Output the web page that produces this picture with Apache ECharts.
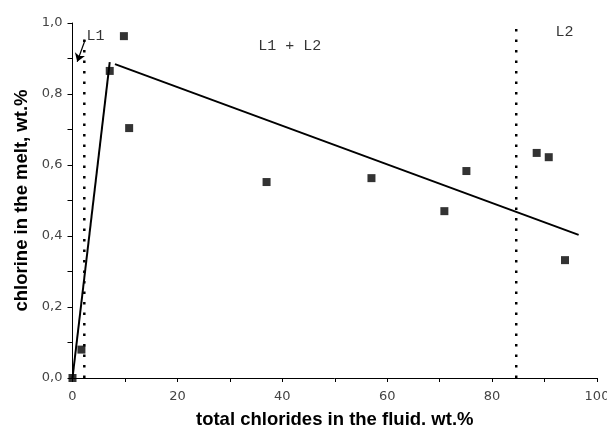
<!DOCTYPE html>
<html>
<head>
<meta charset="utf-8">
<script src="https://cdn.jsdelivr.net/npm/echarts@6/dist/echarts.min.js"></script>
<style>
  html, body { margin: 0; padding: 0; background: #fff; }
  #chart { width: 607px; height: 432px; }
</style>
</head>
<body>
<div id="chart"></div>
<script>
// measured points: total chlorides (wt.%) vs chlorine in melt (wt.%)
const pointsX = [0, 1.7, 7.1, 9.8, 10.8, 37.0, 57.0, 70.9, 75.1, 88.5, 90.8, 93.9];
const pointsY = [0.0, 0.08, 0.865, 0.963, 0.704, 0.552, 0.563, 0.47, 0.583, 0.634, 0.622, 0.332];

// trend lines
const riseLine = [[0, 0], [7.1, 0.89]];
const fallLine = [[8.1, 0.884], [96.5, 0.403]];

// phase boundaries (dotted)
const boundaryL1 = [[2.25, 0], [2.25, 0.975]];
const boundaryL2 = [[84.6, 0], [84.6, 1.01]];

// region labels
const regionNames = ['L1', 'L1 + L2', 'L2'];
const regionX = [4.4, 41.4, 93.8];
const regionY = [0.964, 0.935, 0.975];

// arrow from L1 label to its boundary
const arrowFrom = [2.4, 0.952];
const arrowTo = [0.9, 0.891];

const xTicks = [0, 20, 40, 60, 80, 100];
const yTicks = [0, 0.2, 0.4, 0.6, 0.8, 1.0];

const chart = echarts.init(document.getElementById('chart'));

const tickFont = {color: '#444', fontFamily: 'DejaVu Sans', fontSize: 13};
const titleFont = {fontFamily: 'Liberation Sans', fontWeight: 'bold', fontSize: 18.5, color: '#000'};

chart.setOption({
    animation: false,
    grid: {left: 72.5, right: 10, top: 23, bottom: 54, containLabel: false, outerBoundsMode: 'none'},
    xAxis: {
        type: 'value',
        min: xTicks[0],
        max: xTicks[xTicks.length - 1],
        interval: 20,
        name: 'total chlorides in the fluid. wt.%',
        nameLocation: 'middle',
        nameGap: 32,
        nameTextStyle: titleFont,
        axisLine: {lineStyle: {color: '#000', width: 1}},
        axisTick: {show: true, length: 4, lineStyle: {color: '#000'}},
        minorTick: {show: true, splitNumber: 2, length: 4, lineStyle: {color: '#000'}},
        axisLabel: Object.assign({margin: 12}, tickFont),
        splitLine: {show: false}
    },
    yAxis: {
        type: 'value',
        min: yTicks[0],
        max: yTicks[yTicks.length - 1],
        interval: 0.2,
        name: 'chlorine in the melt, wt.%',
        nameLocation: 'middle',
        nameGap: 40,
        nameTextStyle: titleFont,
        axisLine: {show: true, lineStyle: {color: '#000', width: 1}},
        axisTick: {show: true, length: 5, lineStyle: {color: '#000'}},
        minorTick: {show: true, splitNumber: 2, length: 5, lineStyle: {color: '#000'}},
        axisLabel: Object.assign({
            margin: 10,
            formatter: v => v.toFixed(1).replace('.', ',')
        }, tickFont),
        splitLine: {show: false}
    },
    series: [
        {
            type: 'line',
            data: boundaryL1,
            symbol: 'none',
            lineStyle: {color: '#000', width: 2.5, type: [2.5, 8]},
            z: 1
        },
        {
            type: 'line',
            data: boundaryL2,
            symbol: 'none',
            lineStyle: {color: '#000', width: 2.5, type: [2.5, 8]},
            z: 1
        },
        {
            type: 'line',
            data: riseLine,
            symbol: 'none',
            lineStyle: {color: '#000', width: 2}
        },
        {
            type: 'line',
            data: fallLine,
            symbol: 'none',
            lineStyle: {color: '#000', width: 2},
            markLine: {
                silent: true,
                symbol: ['none', 'arrow'],
                symbolSize: 8,
                label: {show: false},
                lineStyle: {color: '#000', width: 1.2, type: 'solid'},
                data: [[{coord: arrowFrom}, {coord: arrowTo}]]
            }
        },
        {
            type: 'scatter',
            data: pointsX.map((x, i) => [x, pointsY[i]]),
            symbol: 'rect',
            symbolSize: 8,
            itemStyle: {color: '#000'},
            z: 3
        },
        {
            type: 'scatter',
            data: regionNames.map((n, i) => ({name: n, value: [regionX[i], regionY[i]]})),
            symbolSize: 0,
            label: {
                show: true,
                position: 'inside',
                formatter: p => p.name,
                fontFamily: 'Liberation Mono',
                fontSize: 15,
                color: '#000'
            }
        }
    ]
});
</script>
</body>
</html>
